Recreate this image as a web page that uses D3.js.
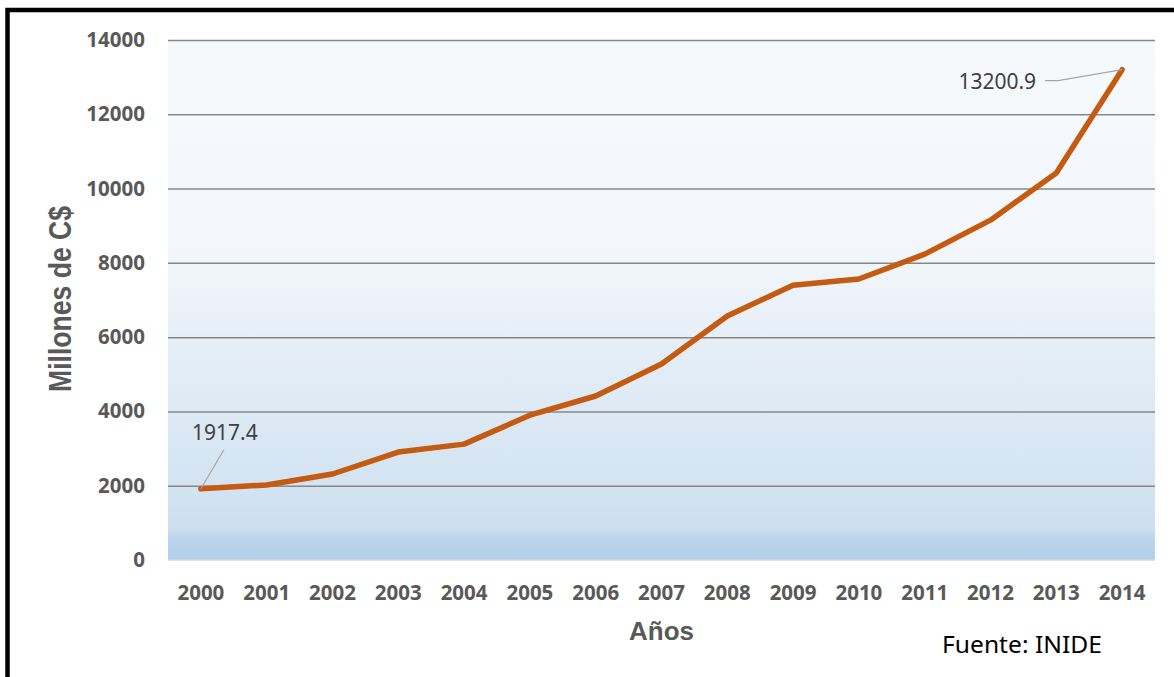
<!DOCTYPE html>
<html>
<head>
<meta charset="utf-8">
<script src="https://cdn.jsdelivr.net/npm/d3@7"></script>
<style>
  body { margin: 0; background: #fff; }
  svg { display: block; }
</style>
</head>
<body>
<svg id="chart" width="1174" height="677"></svg>
<script>
// datos: ingresos por año (millones de C$), fuente INIDE
var years = ["2000","2001","2002","2003","2004","2005","2006","2007","2008","2009","2010","2011","2012","2013","2014"];
var values = [1917.4, 2020, 2315, 2905, 3120, 3900, 4415, 5275, 6570, 7400, 7565, 8235, 9150, 10420, 13200.9];
var yTicks = [0, 2000, 4000, 6000, 8000, 10000, 12000, 14000];
var yTitle = "Millones de C$";
var xTitle = "Años";
var source = "Fuente: INIDE";

var margin = {top: 40, right: 19, bottom: 117, left: 168},
    width = 1174 - margin.left - margin.right,
    height = 677 - margin.top - margin.bottom;

var svg = d3.select("#chart");

// marco negro (se sale por la derecha y por abajo)
svg.append("rect")
  .attr("x", 7.5).attr("y", 10)
  .attr("width", 1250).attr("height", 760)
  .attr("fill", "none")
  .attr("stroke", "#000")
  .attr("stroke-width", 4.5);

var defs = svg.append("defs");
var grad = defs.append("linearGradient")
  .attr("id", "bg").attr("x1", 0).attr("y1", 0).attr("x2", 0).attr("y2", 1);
[["0%", "#f6f9fc"], ["40%", "#f3f7fb"], ["56%", "#e7eff8"], ["80%", "#d7e6f3"],
 ["94%", "#cddff0"], ["96%", "#bad5ec"], ["100%", "#b1d0ea"]].forEach(function(s) {
  grad.append("stop").attr("offset", s[0]).attr("stop-color", s[1]);
});

var g = svg.append("g")
  .attr("transform", "translate(" + margin.left + "," + margin.top + ")");

var x = d3.scaleBand().domain(years).range([0, width]).padding(0);
var y = d3.scaleLinear().domain([0, 14000]).range([height, 0]);

g.append("rect")
  .attr("width", width).attr("height", height)
  .attr("fill", "url(#bg)");

// lineas de cuadricula
g.append("g")
  .attr("class", "grid")
  .call(d3.axisLeft(y).tickValues(yTicks.filter(function(d) { return d > 0; })).tickSize(-width).tickFormat(""))
  .call(function(s) { s.select(".domain").remove(); })
  .selectAll("line")
  .attr("stroke", "#878787")
  .attr("stroke-width", 1.5);

g.append("line")
  .attr("x1", 0).attr("x2", width)
  .attr("y1", y(0)).attr("y2", y(0))
  .attr("stroke", "#d3d9e0").attr("stroke-width", 1.5);

// eje y
var yAxis = g.append("g")
  .call(d3.axisLeft(y).tickValues(yTicks).tickSize(0).tickPadding(23).tickFormat(d3.format("d")));
yAxis.select(".domain").remove();
yAxis.selectAll("text")
  .attr("fill", "#595959")
  .style("font-family", "'Noto Sans', 'Open Sans', sans-serif")
  .style("font-weight", "bold")
  .style("font-size", "20.5px");

// eje x
var xAxis = g.append("g")
  .attr("transform", "translate(0," + height + ")")
  .call(d3.axisBottom(x).tickSize(0).tickPadding(25));
xAxis.select(".domain").remove();
xAxis.selectAll("text")
  .attr("fill", "#595959")
  .style("font-family", "'Noto Sans', 'Open Sans', sans-serif")
  .style("font-weight", "bold")
  .style("font-size", "20.5px");

// linea de datos
var line = d3.line()
  .x(function(d, i) { return x(years[i]) + x.bandwidth() / 2; })
  .y(function(d) { return y(d); });

g.append("path")
  .datum(values)
  .attr("fill", "none")
  .attr("stroke", "#c55a11")
  .attr("stroke-width", 5.5)
  .attr("stroke-linejoin", "round")
  .attr("stroke-linecap", "round")
  .attr("d", line);

// etiquetas de datos (primer y ultimo valor)
var n = values.length - 1;
var p0 = [x(years[0]) + x.bandwidth() / 2, y(values[0])];
var pN = [x(years[n]) + x.bandwidth() / 2, y(values[n])];

g.append("line")
  .attr("x1", p0[0]).attr("y1", p0[1])
  .attr("x2", p0[0] + 23).attr("y2", p0[1] - 39)
  .attr("stroke", "#a6a6a6").attr("stroke-width", 1.2);

g.append("text")
  .attr("x", p0[0] + 24).attr("y", p0[1] - 49)
  .attr("text-anchor", "middle")
  .attr("fill", "#404040")
  .style("font-family", "'Noto Sans', 'Open Sans', sans-serif")
  .style("font-size", "21px")
  .text(d3.format(".1f")(values[0]));

g.append("polyline")
  .attr("points", [[pN[0], pN[1]], [pN[0] - 64, pN[1] + 11], [pN[0] - 77, pN[1] + 11]].join(" "))
  .attr("fill", "none")
  .attr("stroke", "#a6a6a6").attr("stroke-width", 1.2);

g.append("text")
  .attr("x", pN[0] - 86).attr("y", pN[1] + 19)
  .attr("text-anchor", "end")
  .attr("fill", "#404040")
  .style("font-family", "'Noto Sans', 'Open Sans', sans-serif")
  .style("font-size", "21px")
  .text(d3.format(".1f")(values[n]));

// titulos
svg.append("text")
  .attr("transform", "translate(71,299) rotate(-90)")
  .attr("text-anchor", "middle")
  .attr("fill", "#595959")
  .attr("textLength", 186)
  .attr("lengthAdjust", "spacingAndGlyphs")
  .style("font-family", "'Liberation Sans Narrow', 'Liberation Sans', Arial, sans-serif")
  .style("font-weight", "bold")
  .style("font-size", "31px")
  .text(yTitle);

svg.append("text")
  .attr("x", margin.left + width / 2)
  .attr("y", 640)
  .attr("text-anchor", "middle")
  .attr("fill", "#595959")
  .style("font-family", "'Liberation Sans', Arial, sans-serif")
  .style("font-weight", "bold")
  .style("font-size", "26px")
  .text(xTitle);

svg.append("text")
  .attr("x", 942)
  .attr("y", 653)
  .attr("fill", "#000")
  .attr("textLength", 160)
  .attr("lengthAdjust", "spacingAndGlyphs")
  .style("font-family", "'Noto Sans', 'Open Sans', sans-serif")
  .style("font-size", "23px")
  .text(source);
</script>
</body>
</html>
